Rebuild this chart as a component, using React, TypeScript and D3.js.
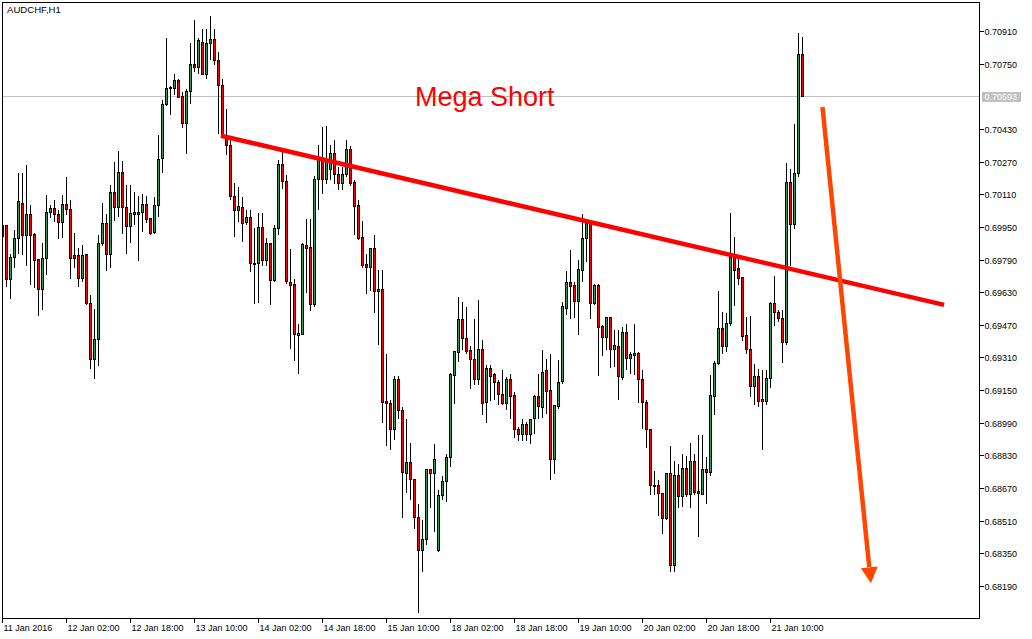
import React from 'react';
import * as d3 from 'd3';

const chartTitle = 'AUDCHF,H1';

const opens = [0.69904,0.69958,0.69696,0.69804,0.69897,0.70069,0.69910,0.70015,0.69914,0.69791,0.69647,0.69799,0.70025,0.70044,0.70015,0.69976,0.70061,0.70036,0.69811,0.69811,0.69701,0.69815,0.69579,0.69304,0.69399,0.69873,0.69967,0.69819,0.70121,0.70049,0.70221,0.70049,0.69954,0.70015,0.70015,0.70025,0.70061,0.69995,0.69927,0.70057,0.70290,0.70554,0.70629,0.70633,0.70669,0.70592,0.70461,0.70616,0.70751,0.70734,0.70859,0.70702,0.70854,0.70873,0.70767,0.70644,0.70399,0.70351,0.70101,0.70033,0.70049,0.69974,0.70000,0.69775,0.69775,0.69951,0.69788,0.69873,0.69689,0.69946,0.70257,0.70175,0.69682,0.69668,0.69420,0.69427,0.69860,0.69853,0.69570,0.70183,0.70281,0.70187,0.70232,0.70314,0.70211,0.70167,0.70211,0.70330,0.70172,0.70056,0.69902,0.69766,0.69753,0.69845,0.69636,0.69647,0.69096,0.69085,0.68961,0.69206,0.69050,0.68745,0.68797,0.68712,0.68529,0.68365,0.68421,0.68761,0.68741,0.68364,0.68635,0.68704,0.68823,0.69224,0.69338,0.69497,0.69407,0.69345,0.69301,0.69203,0.69350,0.69093,0.69256,0.69227,0.69191,0.69132,0.69088,0.69206,0.69124,0.68961,0.68933,0.68982,0.68933,0.69015,0.69121,0.69069,0.69247,0.69149,0.68814,0.69071,0.69194,0.69554,0.69682,0.69663,0.69587,0.69738,0.69897,0.69971,0.69575,0.69663,0.69464,0.69410,0.69508,0.69353,0.69366,0.69216,0.69436,0.69309,0.69322,0.69333,0.69206,0.69093,0.68957,0.68684,0.68684,0.68647,0.68524,0.68745,0.68292,0.68732,0.68630,0.68769,0.68642,0.68802,0.68655,0.68642,0.68761,0.68750,0.69121,0.69284,0.69453,0.69366,0.69477,0.69804,0.69750,0.69706,0.69418,0.69353,0.69170,0.69219,0.69104,0.69096,0.69211,0.69575,0.69535,0.69505,0.69385,0.70170,0.69963,0.70213,0.70796];

const highs = [0.69987,0.69963,0.69820,0.69938,0.70221,0.70221,0.70257,0.70061,0.69927,0.69799,0.69878,0.70110,0.70061,0.70085,0.70036,0.70110,0.70199,0.70085,0.69927,0.69853,0.69864,0.69820,0.69619,0.69551,0.69914,0.70074,0.70016,0.70159,0.70273,0.70325,0.70276,0.70159,0.70159,0.70126,0.70105,0.70115,0.70105,0.69998,0.70101,0.70407,0.70576,0.70881,0.70644,0.70706,0.70679,0.70615,0.70633,0.70859,0.70968,0.70881,0.70927,0.70927,0.70988,0.70927,0.70812,0.70682,0.70535,0.70379,0.70172,0.70150,0.70101,0.70040,0.70040,0.69951,0.70025,0.70025,0.69902,0.69876,0.69963,0.70281,0.70322,0.70208,0.69845,0.69698,0.69480,0.69878,0.69992,0.69992,0.70203,0.70355,0.70445,0.70448,0.70355,0.70383,0.70249,0.70249,0.70383,0.70351,0.70183,0.70085,0.69984,0.69824,0.69848,0.69914,0.69742,0.69745,0.69333,0.69104,0.69222,0.69222,0.69071,0.69015,0.68895,0.68720,0.68594,0.68516,0.68770,0.68764,0.68892,0.68666,0.68732,0.68843,0.69240,0.69345,0.69611,0.69587,0.69562,0.69369,0.69505,0.69598,0.69399,0.69276,0.69276,0.69238,0.69203,0.69251,0.69219,0.69235,0.69144,0.68973,0.69011,0.68998,0.69015,0.69129,0.69235,0.69350,0.69309,0.69330,0.69080,0.69301,0.69587,0.69738,0.69840,0.69684,0.69791,0.70020,0.69987,0.69976,0.69677,0.69677,0.69472,0.69513,0.69513,0.69448,0.69448,0.69464,0.69480,0.69341,0.69480,0.69341,0.69251,0.69104,0.68962,0.68758,0.68712,0.68650,0.68750,0.68880,0.68807,0.68794,0.68843,0.68831,0.68895,0.68843,0.68933,0.68933,0.68826,0.69227,0.69296,0.69640,0.69537,0.69535,0.70025,0.69905,0.69815,0.69709,0.69513,0.69516,0.69284,0.69260,0.69251,0.69251,0.69587,0.69712,0.69546,0.69546,0.70268,0.70241,0.70458,0.70906,0.70886];

const lows = [0.69865,0.69660,0.69601,0.69753,0.69824,0.69819,0.69763,0.69668,0.69655,0.69518,0.69549,0.69721,0.69998,0.69977,0.69894,0.69902,0.70012,0.69698,0.69753,0.69660,0.69684,0.69570,0.69256,0.69209,0.69273,0.69860,0.69737,0.69753,0.69984,0.70003,0.69918,0.69824,0.69878,0.69963,0.69788,0.69928,0.69976,0.69917,0.69918,0.70003,0.70219,0.70546,0.70502,0.70600,0.70585,0.70440,0.70314,0.70559,0.70714,0.70706,0.70698,0.70679,0.70772,0.70747,0.70412,0.70394,0.70309,0.70085,0.69905,0.69979,0.69881,0.69963,0.69734,0.69579,0.69584,0.69763,0.69763,0.69570,0.69684,0.69917,0.70143,0.69677,0.69354,0.69296,0.69235,0.69423,0.69631,0.69542,0.69562,0.70040,0.70118,0.70167,0.70183,0.70167,0.70134,0.70134,0.70199,0.70155,0.69914,0.69889,0.69753,0.69624,0.69640,0.69535,0.69374,0.68993,0.68880,0.68859,0.68912,0.69015,0.68529,0.68650,0.68617,0.68475,0.68063,0.68262,0.68393,0.68576,0.68458,0.68360,0.68614,0.68606,0.68777,0.69085,0.69292,0.69350,0.69333,0.69162,0.69178,0.69178,0.69031,0.68993,0.69099,0.69104,0.69080,0.69080,0.69055,0.69015,0.68919,0.68905,0.68905,0.68905,0.68892,0.68941,0.69015,0.69020,0.69039,0.68712,0.68745,0.69064,0.69186,0.69521,0.69505,0.69508,0.69423,0.69684,0.69783,0.69503,0.69570,0.69224,0.69322,0.69350,0.69263,0.69266,0.69108,0.69203,0.69251,0.69235,0.69227,0.69093,0.68962,0.68870,0.68638,0.68638,0.68535,0.68451,0.68516,0.68262,0.68262,0.68578,0.68581,0.68630,0.68578,0.68638,0.68434,0.68638,0.68598,0.68733,0.69034,0.69276,0.69330,0.69341,0.69467,0.69565,0.69668,0.69395,0.69333,0.69121,0.69080,0.69071,0.68863,0.69080,0.69163,0.69469,0.69487,0.69289,0.69374,0.69763,0.69943,0.70199,0.70590];

const closes = [0.69958,0.69696,0.69804,0.69897,0.70077,0.69910,0.70015,0.69910,0.69788,0.69647,0.69799,0.70025,0.70044,0.70015,0.69976,0.70061,0.70036,0.69799,0.69796,0.69701,0.69811,0.69579,0.69304,0.69399,0.69873,0.69967,0.69819,0.70121,0.70049,0.70221,0.70049,0.69954,0.70020,0.70023,0.70025,0.70061,0.69991,0.69922,0.70056,0.70285,0.70554,0.70633,0.70634,0.70669,0.70589,0.70461,0.70616,0.70751,0.70734,0.70865,0.70702,0.70854,0.70873,0.70767,0.70644,0.70399,0.70351,0.70101,0.70033,0.70052,0.69971,0.70000,0.69771,0.69770,0.69949,0.69788,0.69873,0.69689,0.69946,0.70257,0.70175,0.69684,0.69665,0.69427,0.69431,0.69864,0.69846,0.69570,0.70183,0.70281,0.70187,0.70281,0.70314,0.70211,0.70167,0.70211,0.70330,0.70167,0.70052,0.69897,0.69763,0.69753,0.69845,0.69636,0.69647,0.69093,0.69085,0.68961,0.69206,0.69050,0.68750,0.68797,0.68712,0.68529,0.68365,0.68421,0.68764,0.68741,0.68814,0.68634,0.68704,0.68823,0.69227,0.69341,0.69497,0.69404,0.69341,0.69301,0.69203,0.69350,0.69088,0.69256,0.69219,0.69191,0.69132,0.69088,0.69203,0.69121,0.68957,0.68933,0.68982,0.68933,0.69006,0.69121,0.69071,0.69240,0.69145,0.68814,0.69076,0.69191,0.69562,0.69682,0.69660,0.69587,0.69742,0.69897,0.69971,0.69575,0.69663,0.69459,0.69410,0.69508,0.69353,0.69369,0.69219,0.69436,0.69309,0.69325,0.69333,0.69203,0.69093,0.68957,0.68684,0.68681,0.68647,0.68524,0.68745,0.68292,0.68732,0.68630,0.68769,0.68638,0.68802,0.68650,0.68647,0.68764,0.68750,0.69124,0.69284,0.69453,0.69366,0.69480,0.69804,0.69737,0.69701,0.69415,0.69353,0.69170,0.69219,0.69096,0.69096,0.69211,0.69575,0.69535,0.69505,0.69385,0.70170,0.69963,0.70213,0.70796,0.70593];

const timeLabelBars = [0, 16, 32, 48, 64, 80, 96, 112, 128, 144, 160, 176, 192];
const timeLabels = ['11 Jan 2016', '12 Jan 02:00', '12 Jan 18:00', '13 Jan 10:00', '14 Jan 02:00', '14 Jan 18:00', '15 Jan 10:00', '18 Jan 02:00', '18 Jan 18:00', '19 Jan 10:00', '20 Jan 02:00', '20 Jan 18:00', '21 Jan 10:00'];

const priceTicks = [0.70910, 0.70750, 0.70430, 0.70270, 0.70110, 0.69950, 0.69790, 0.69630, 0.69470, 0.69310, 0.69150, 0.68990, 0.68830, 0.68670, 0.68510, 0.68350, 0.68190];

const currentPrice = 0.70593;

const trendBars = [54.6, 235.4];
const trendPrices = [0.70400, 0.69570];

const arrowBars = [205.0, 217.1];
const arrowPrices = [0.70540, 0.68205];

const noteText = 'Mega Short';
const noteBar = 103.1;
const notePrice = 0.70544;

const W = 1032;
const H = 639;
const PL = 2.5, PR = 979.5, PT = 2.5, PB = 618.5;
const GREEN = '#2f9d5f';
const RED = '#ff0000';
const ORANGE = '#ff4500';
const FONT = '"Liberation Sans", Arial, sans-serif';

export default function App() {
  const x = d3.scaleLinear().domain([0, 200]).range([2.5, 802.5]);
  const y = d3.scaleLinear().domain([0.68190, 0.70910]).range([586.3, 31.7]);
  const snap = (v: number) => Math.round(v - 0.5) + 0.5;

  const candles = opens.map((o, i) => {
    const c = closes[i];
    const cx = snap(x(i));
    const top = snap(y(Math.max(o, c)));
    const bot = snap(y(Math.min(o, c)));
    return (
      <g key={i}>
        <line x1={cx} x2={cx} y1={snap(y(highs[i]))} y2={snap(y(lows[i]))} stroke="#000" strokeWidth={1} />
        <rect x={cx - 1} y={top} width={2} height={Math.max(bot - top, 0)} fill={c >= o ? GREEN : RED} stroke="#000" strokeWidth={1} />
      </g>
    );
  });

  const trendPts: [number, number][] = trendBars.map((b, k) => [x(b), y(trendPrices[k])]);
  const line = d3.line();

  const a0: [number, number] = [x(arrowBars[0]), y(arrowPrices[0])];
  const a1: [number, number] = [x(arrowBars[1]), y(arrowPrices[1])];
  const dx = a1[0] - a0[0], dy = a1[1] - a0[1];
  const len = Math.hypot(dx, dy);
  const ux = dx / len, uy = dy / len;
  const headLen = 16, headHalf = 8.5;
  const base: [number, number] = [a1[0] - ux * headLen, a1[1] - uy * headLen];
  const headPts = [
    [base[0] - uy * headHalf, base[1] + ux * headHalf],
    [base[0] + uy * headHalf, base[1] - ux * headHalf],
    a1,
  ];

  const cpY = snap(y(currentPrice));

  return (
    <svg width={W} height={H} style={{ position: 'absolute', left: 0, top: 0, background: '#fff' }} xmlns="http://www.w3.org/2000/svg">
      <defs>
        <clipPath id="plot">
          <rect x={PL} y={PT} width={PR - PL} height={PB - PT} />
        </clipPath>
      </defs>
      <rect x={0} y={0} width={W} height={H} fill="#fff" />
      <g clipPath="url(#plot)">
        <line x1={PL} x2={PR} y1={cpY} y2={cpY} stroke="#c0c0c0" strokeWidth={1} />
        <g shapeRendering="crispEdges">{candles}</g>
        <path d={line(trendPts) || ''} stroke={RED} strokeWidth={4.5} fill="none" />
        <line x1={a0[0]} y1={a0[1]} x2={base[0]} y2={base[1]} stroke={ORANGE} strokeWidth={4.5} />
        <polygon points={headPts.map((p) => p.join(',')).join(' ')} fill={ORANGE} />
        <text x={x(noteBar)} y={y(notePrice)} fill={RED} fontFamily={FONT} fontSize={27}>{noteText}</text>
      </g>
      <rect x={PL} y={PT} width={PR - PL} height={PB - PT} fill="none" stroke="#000" strokeWidth={1} shapeRendering="crispEdges" />
      <text x={7} y={12.7} fontFamily={FONT} fontSize={9.6} fill="#000">{chartTitle}</text>
      <g shapeRendering="crispEdges">
        {priceTicks.map((p) => {
          const ty = snap(y(p));
          return (
            <g key={p}>
              <line x1={PR} x2={PR + 4} y1={ty} y2={ty} stroke="#000" />
              <text x={984.5} y={ty + 3.3} fontFamily={FONT} fontSize={9} fill="#000">{p.toFixed(5)}</text>
            </g>
          );
        })}
        <rect x={981.5} y={cpY - 5} width={39.5} height={10} fill="#c0c0c0" />
        <text x={984.5} y={cpY + 3.3} fontFamily={FONT} fontSize={9} fill="#fff">{currentPrice.toFixed(5)}</text>
        {timeLabelBars.map((b, k) => {
          const tx = snap(x(b));
          return (
            <g key={b}>
              <line x1={tx} x2={tx} y1={PB} y2={PB + 4} stroke="#000" />
              <text x={tx + 1} y={631} fontFamily={FONT} fontSize={9} fill="#000">{timeLabels[k]}</text>
            </g>
          );
        })}
      </g>
    </svg>
  );
}
